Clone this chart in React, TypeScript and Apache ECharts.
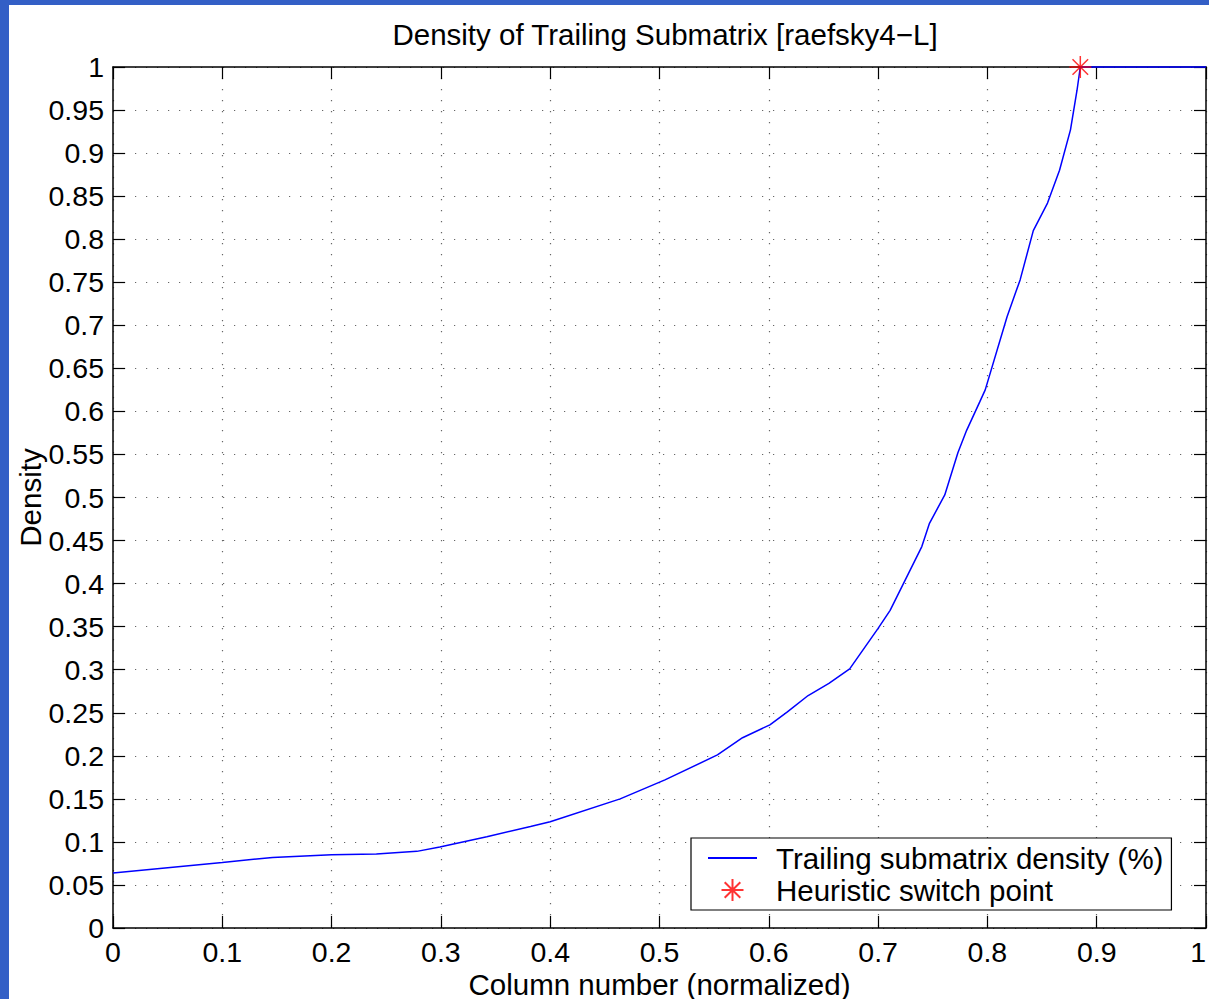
import { useEffect, useRef } from "react";
import * as echarts from "echarts";

const chartTitle = "Density of Trailing Submatrix [raefsky4\u2212L]";
const xAxisName = "Column number (normalized)";
const yAxisName = "Density";
const lineName = "Trailing submatrix density (%)";
const pointName = "Heuristic switch point";

const columnValues = [
  0, 0.05, 0.1, 0.146, 0.2, 0.241, 0.278, 0.299, 0.342, 0.382, 0.4, 0.464,
  0.505, 0.553, 0.576, 0.601, 0.617, 0.636, 0.655, 0.674, 0.7, 0.711, 0.74,
  0.747, 0.761, 0.773, 0.781, 0.793, 0.798, 0.818, 0.83, 0.842, 0.855, 0.866,
  0.876, 0.882, 0.885, 1,
];
const densityValues = [
  0.064, 0.07, 0.076, 0.082, 0.085, 0.086, 0.089, 0.094, 0.106, 0.118, 0.1235,
  0.15, 0.172, 0.201, 0.221, 0.236, 0.251, 0.27, 0.284, 0.301, 0.348, 0.369,
  0.443, 0.47, 0.503, 0.552, 0.578, 0.611, 0.625, 0.71, 0.753, 0.81, 0.842,
  0.88, 0.927, 0.973, 1.0, 1.0,
];
const switchColumn = [0.885];
const switchDensity = [1.0];

const xMin = 0;
const xMax = 1;
const xStep = 0.1;
const yMin = 0;
const yMax = 1;
const yStep = 0.05;

const FONT = "'Liberation Sans', Arial, Helvetica, sans-serif";
const STAR = "path://M0,-11L0,11M-11,0L11,0M-7.8,-7.8L7.8,7.8M-7.8,7.8L7.8,-7.8";

const fmt = (v: number) => String(+Number(v).toFixed(2));

export default function App() {
  const ref = useRef<HTMLDivElement>(null);
  useEffect(() => {
    if (!ref.current) return;
    const chart = echarts.init(ref.current, null, { renderer: "svg" });
    const lineData = columnValues.map((x, i) => [x, densityValues[i]]);
    const pointData = switchColumn.map((x, i) => [x, switchDensity[i]]);
    const tickCommon = {
      show: true,
      inside: true,
      length: 12,
      lineStyle: { color: "#000", width: 1.2 },
    };
    const axisLine = { show: true, onZero: false, lineStyle: { color: "#000", width: 1.5 } };
    const gridLine = {
      show: true,
      lineStyle: { color: "#666", width: 1.2, type: [1.2, 9.8] as any },
    };
    chart.setOption({
      animation: false,
      backgroundColor: "#fff",
      textStyle: { fontFamily: FONT },
      title: {
        text: chartTitle,
        left: 660,
        textAlign: "center",
        top: 14,
        textStyle: { fontFamily: FONT, fontSize: 29.5, fontWeight: "normal", color: "#000" },
      },
      grid: {
        left: 113,
        top: 67,
        right: 3,
        bottom: 71,
        containLabel: false,
        outerBoundsMode: "none",
      },
      legend: {
        orient: "vertical",
        left: 691,
        top: 838,
        padding: [5, 8, 5, 16],
        itemWidth: 49,
        itemHeight: 22,
        itemGap: 2,
        borderColor: "#000",
        borderWidth: 1.2,
        backgroundColor: "#fff",
        selectedMode: false,
        textStyle: {
          fontFamily: FONT,
          fontSize: 29.5,
          color: "#000",
          lineHeight: 30,
          padding: [0, 0, 0, 14],
        },
        data: [
          { name: lineName, itemStyle: { opacity: 0 } },
          { name: pointName },
        ],
      },
      xAxis: [
        {
          type: "value",
          min: xMin,
          max: xMax,
          interval: xStep,
          position: "bottom",
          name: xAxisName,
          nameLocation: "middle",
          nameGap: 43,
          nameMoveOverlap: false,
          nameTextStyle: { fontFamily: FONT, fontSize: 29.5, color: "#000", lineHeight: 26 },
          axisLine,
          axisTick: tickCommon,
          axisLabel: {
            show: true,
            margin: 9,
            fontFamily: FONT,
            fontSize: 28.5,
            color: "#000",
            formatter: fmt,
            showMinLabel: true,
            showMaxLabel: true,
            alignMaxLabel: "right",
          },
          splitLine: gridLine,
        },
        {
          type: "value",
          min: xMin,
          max: xMax,
          interval: xStep,
          position: "top",
          axisLine,
          axisTick: tickCommon,
          axisLabel: { show: false },
          splitLine: { show: false },
        },
      ],
      yAxis: [
        {
          type: "value",
          min: yMin,
          max: yMax,
          interval: yStep,
          position: "left",
          name: yAxisName,
          nameLocation: "middle",
          nameGap: 68,
          nameMoveOverlap: false,
          nameTextStyle: { fontFamily: FONT, fontSize: 29.5, color: "#000" },
          axisLine,
          axisTick: tickCommon,
          axisLabel: {
            show: true,
            margin: 9,
            fontFamily: FONT,
            fontSize: 28.5,
            color: "#000",
            formatter: fmt,
          },
          splitLine: gridLine,
        },
        {
          type: "value",
          min: yMin,
          max: yMax,
          interval: yStep,
          position: "right",
          axisLine,
          axisTick: tickCommon,
          axisLabel: { show: false },
          splitLine: { show: false },
        },
      ],
      series: [
        {
          name: lineName,
          type: "line",
          data: lineData,
          symbol: "none",
          clip: false,
          lineStyle: { color: "#0000ff", width: 1.5 },
          itemStyle: { color: "#0000ff" },
          emphasis: { disabled: true },
          z: 5,
        },
        {
          name: pointName,
          type: "scatter",
          data: pointData,
          symbol: STAR,
          symbolSize: 22,
          symbolKeepAspect: true,
          clip: false,
          itemStyle: { color: "rgba(0,0,0,0)", borderColor: "#ff0000", borderWidth: 1.5 },
          emphasis: { disabled: true },
          z: 6,
        },
      ],
    });
    return () => chart.dispose();
  }, []);
  return (
    <div style={{ position: "fixed", left: 0, top: 0, width: 1209, height: 999, background: "#fff" }}>
      <div ref={ref} style={{ position: "absolute", left: 0, top: 0, width: 1209, height: 999 }} />
      <div style={{ position: "absolute", left: 0, top: 0, width: 9, height: 999, background: "#335fc6" }} />
      <div style={{ position: "absolute", left: 0, top: 0, width: 1209, height: 5, background: "#335fc6" }} />
    </div>
  );
}
